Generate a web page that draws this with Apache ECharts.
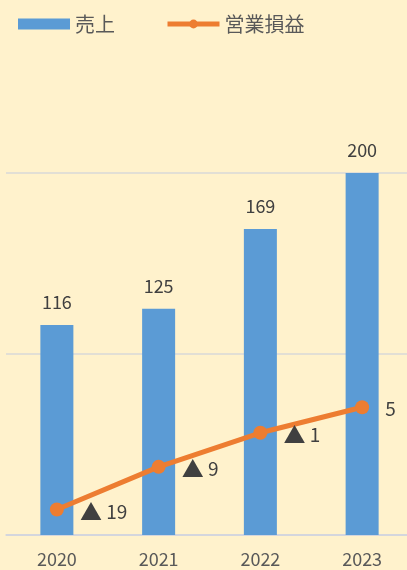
<!DOCTYPE html>
<html>
<head>
<meta charset="utf-8">
<script src="https://cdn.jsdelivr.net/npm/echarts@6/dist/echarts.min.js"></script>
<style>
  html, body { margin: 0; padding: 0; background: #FFF2CC; }
  #chart { width: 407px; height: 570px; }
</style>
</head>
<body>
<div id="chart"></div>
<script>
// 年度別の売上と営業損益
const years = ['2020', '2021', '2022', '2023'];
const sales = [116, 125, 169, 200];
const operatingProfit = [-19, -9, -1, 5];

const FONT = '"Noto Sans CJK JP", "Noto Sans", sans-serif';

// 損益は負の値を「▲」で表記する
function fmtProfit(v) {
  return v < 0 ? '{tri|▲} ' + Math.abs(v) : String(v);
}

const chart = echarts.init(document.getElementById('chart'));
chart.setOption({
  backgroundColor: '#FFF2CC',
  animation: false,
  legend: {
    left: 18,
    top: 14,
    padding: 0,
    itemWidth: 52,
    itemHeight: 11,
    itemGap: 50,
    textStyle: { fontFamily: FONT, fontSize: 20, color: '#595959' },
    data: [
      { name: '売上', icon: 'rect' },
      {
        name: '営業損益',
        lineStyle: { color: '#ED7D31', width: 5 },
        itemStyle: { color: '#ED7D31' }
      }
    ]
  },
  grid: { left: 6, width: 407, top: 173, bottom: 35, outerBoundsMode: 'none', containLabel: false },
  xAxis: {
    type: 'category',
    data: years,
    axisTick: { show: false },
    axisLine: { lineStyle: { color: '#D0D4E0', width: 1.5 } },
    axisLabel: { fontFamily: FONT, fontSize: 18, color: '#595959', margin: 15 }
  },
  yAxis: [
    {
      type: 'value', min: 0, max: 200, interval: 100,
      axisLabel: { show: false },
      axisLine: { show: false },
      axisTick: { show: false },
      splitLine: { lineStyle: { color: '#D9D9D9', width: 1.5 } }
    },
    {
      type: 'value', min: -25, max: 60,
      show: false,
      splitLine: { show: false }
    }
  ],
  series: [
    {
      name: '売上',
      type: 'bar',
      data: sales,
      barWidth: 33,
      itemStyle: { color: '#5B9BD5' },
      label: {
        show: true, position: 'top', distance: 14,
        fontFamily: FONT, fontSize: 18, color: '#404040'
      }
    },
    {
      name: '営業損益',
      type: 'line',
      yAxisIndex: 1,
      data: operatingProfit,
      symbol: 'circle',
      symbolSize: 14,
      lineStyle: { color: '#ED7D31', width: 5 },
      itemStyle: { color: '#ED7D31' },
      label: {
        show: true, position: 'right', distance: 14, offset: [2, 2],
        fontFamily: FONT, fontSize: 19, color: '#404040',
        formatter: p => fmtProfit(p.value),
        rich: {
          tri: { fontFamily: FONT, fontSize: 22, color: '#404040' }
        }
      }
    }
  ]
});
</script>
</body>
</html>
